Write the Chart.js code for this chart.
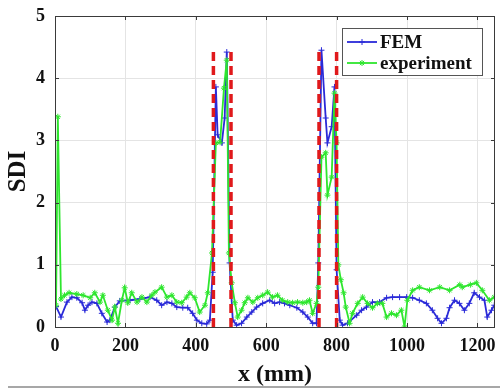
<!DOCTYPE html>
<html>
<head>
<meta charset="utf-8">
<script src="https://cdn.jsdelivr.net/npm/chart.js@4.4.1/dist/chart.umd.min.js"></script>
<style>
  html, body { margin: 0; padding: 0; background: #fff; }
  #wrap { width: 500px; height: 389px; position: relative; }
</style>
</head>
<body>
<div id="wrap"><canvas id="myChart_1" width="500" height="389"></canvas></div>
<script>
// FEM curve (blue, + markers)
const FEM_x = [3,17,34,48,62,77,85,94,105,119,133,148,156,170,184,213,241,270,289,303,318,332,346,363,377,391,403,417,431,440,
  448,457,462,474,482,488,496,505,516,530,545,559,573,590,610,624,638,652,667,687,704,718,732,743,
  748,757,769,774,786,794,800,809,817,831,857,871,885,902,922,942,959,979,999,1016,1035,1055,1072,1087,1098,1112,
  1121,1135,1149,1163,1177,1191,1206,1220,1228,1240,1248];
const FEM_y = [0.33,0.16,0.40,0.48,0.47,0.39,0.27,0.35,0.40,0.38,0.22,0.08,0.11,0.32,0.42,0.43,0.45,0.48,0.43,0.35,0.40,0.38,0.32,0.31,0.31,0.22,0.11,0.06,0.05,0.11,
  0.88,3.86,3.09,2.96,3.36,4.42,1.03,0.11,0.03,0.06,0.16,0.24,0.32,0.38,0.43,0.38,0.40,0.38,0.35,0.31,0.24,0.16,0.06,0.06,
  1.03,4.45,3.36,2.96,3.22,3.86,0.92,0.11,0.03,0.06,0.19,0.27,0.32,0.40,0.40,0.47,0.48,0.48,0.48,0.47,0.43,0.38,0.27,0.14,0.06,0.14,
  0.31,0.43,0.38,0.27,0.38,0.55,0.48,0.43,0.16,0.27,0.35];

// experiment curve (green, * markers)
const EXP_x = [3,8,17,27,40,62,80,100,113,128,136,150,162,170,179,190,198,207,218,233,247,261,275,284,303,318,332,346,360,374,383,397,411,426,434,
  446,457,469,480,488,494,502,511,519,530,539,548,562,576,590,604,618,632,646,661,675,689,704,715,723,732,743,
  748,757,769,774,786,794,800,805,812,820,826,837,845,860,874,888,902,916,930,942,956,970,984,993,1001,1016,1035,1064,1093,1121,1150,1157,1180,1197,1214,1234,1248];
const EXP_y = [0.35,3.38,0.45,0.51,0.55,0.53,0.51,0.47,0.55,0.40,0.51,0.27,0.11,0.32,0.06,0.43,0.63,0.39,0.55,0.40,0.48,0.40,0.51,0.56,0.64,0.48,0.51,0.40,0.39,0.48,0.55,0.47,0.24,0.35,0.55,
  1.19,2.96,2.97,3.84,4.29,1.19,0.71,0.39,0.16,0.27,0.39,0.47,0.40,0.47,0.51,0.56,0.48,0.51,0.43,0.40,0.39,0.40,0.39,0.40,0.43,0.22,0.38,
  0.64,2.73,2.80,2.12,2.41,3.76,2.96,1.00,0.76,0.55,0.32,0.06,0.22,0.38,0.48,0.38,0.31,0.38,0.38,0.16,0.22,0.19,0.27,0.00,0.43,0.59,0.64,0.59,0.64,0.59,0.68,0.64,0.68,0.71,0.59,0.43,0.48];

// defect edges (red dashed lines)
const EDGE_x = [450, 500, 750, 800];
const EDGE_top = 4.45;

const X_min = 0, X_max = 1250, X_step = 200;
const Y_min = 0, Y_max = 5, Y_step = 1;

const FONT = '"Liberation Serif", "Times New Roman", serif';
const BLUE = '#2a2ad8';
const GREEN = '#2ee62e';
const RED = '#e0191b';

const femPts = FEM_x.map((x, i) => ({x: x, y: FEM_y[i]}));
const expPts = EXP_x.map((x, i) => ({x: x, y: EXP_y[i]}));
const edgePts = [];
EDGE_x.forEach(x => { edgePts.push({x: x, y: 0}, {x: x, y: EDGE_top}, {x: x, y: null}); });

const legendItems = [
  {text: 'FEM', color: BLUE, style: 'cross'},
  {text: 'experiment', color: GREEN, style: 'star'}
];

function marker(ctx, style, x, y, r) {
  ctx.beginPath();
  ctx.moveTo(x - r, y); ctx.lineTo(x + r, y);
  ctx.moveTo(x, y - r); ctx.lineTo(x, y + r);
  if (style === 'star') {
    const d = r * 0.707;
    ctx.moveTo(x - d, y - d); ctx.lineTo(x + d, y + d);
    ctx.moveTo(x - d, y + d); ctx.lineTo(x + d, y - d);
  }
  ctx.stroke();
}

const framePlugin = {
  id: 'frame',
  afterDraw(chart) {
    const ctx = chart.ctx;
    const a = chart.chartArea;
    const xs = chart.scales.x, ys = chart.scales.y;
    ctx.save();
    ctx.strokeStyle = '#3a3a3a';
    ctx.lineWidth = 1;
    ctx.strokeRect(a.left + 0.5, a.top + 0.5, a.right - a.left - 1, a.bottom - a.top);
    // inward ticks
    ctx.beginPath();
    xs.ticks.forEach(t => {
      const px = Math.round(xs.getPixelForValue(t.value)) + 0.5;
      ctx.moveTo(px, a.bottom); ctx.lineTo(px, a.bottom - 4);
      ctx.moveTo(px, a.top); ctx.lineTo(px, a.top + 4);
    });
    ys.ticks.forEach(t => {
      const py = Math.round(ys.getPixelForValue(t.value)) + 0.5;
      ctx.moveTo(a.left, py); ctx.lineTo(a.left + 4, py);
      ctx.moveTo(a.right, py); ctx.lineTo(a.right - 4, py);
    });
    ctx.stroke();

    // legend box
    const bx = 342, by = 28, bw = 140, bh = 47;
    ctx.fillStyle = '#fff';
    ctx.fillRect(bx, by, bw, bh);
    ctx.strokeStyle = '#555';
    ctx.strokeRect(bx + 0.5, by + 0.5, bw, bh);
    ctx.font = 'bold 19px ' + FONT;
    ctx.textBaseline = 'middle';
    legendItems.forEach((it, i) => {
      const y = by + 14 + i * 21;
      ctx.strokeStyle = it.color;
      ctx.lineWidth = 1.8;
      ctx.beginPath();
      ctx.moveTo(bx + 5, y); ctx.lineTo(bx + 35, y);
      ctx.stroke();
      ctx.lineWidth = 1;
      marker(ctx, it.style, bx + 20, y, 3);
      ctx.fillStyle = '#111';
      ctx.fillText(it.text, bx + 38, y + 1);
    });

    // photo edge line at the bottom
    ctx.strokeStyle = '#8a8a8a';
    ctx.lineWidth = 1.5;
    ctx.beginPath();
    ctx.moveTo(8, 387); ctx.lineTo(500, 387);
    ctx.stroke();
    ctx.restore();
  }
};

const ctx_1 = document.getElementById('myChart_1');

window.myChart_1 = new Chart(ctx_1, {
  type: 'line',
  data: {
    datasets: [{
      label: 'edges',
      data: edgePts,
      borderColor: RED,
      borderWidth: 3.5,
      borderDash: [9, 5],
      pointRadius: 0,
      spanGaps: false,
      order: 0
    }, {
      label: 'experiment',
      data: expPts,
      borderColor: GREEN,
      backgroundColor: GREEN,
      borderWidth: 1.8,
      pointStyle: 'star',
      pointRadius: 3,
      pointBorderWidth: 1,
      pointBorderColor: GREEN,
      tension: 0,
      order: 1
    }, {
      label: 'FEM',
      data: femPts,
      borderColor: BLUE,
      backgroundColor: BLUE,
      borderWidth: 1.8,
      pointStyle: 'cross',
      pointRadius: 3,
      pointBorderWidth: 1,
      pointBorderColor: BLUE,
      tension: 0,
      order: 2
    }]
  },
  options: {
    responsive: false,
    animation: false,
    layout: { padding: { top: 16, right: 5, left: 0, bottom: 0 } },
    plugins: {
      legend: { display: false },
      tooltip: { enabled: false }
    },
    scales: {
      x: {
        type: 'linear',
        min: X_min,
        max: X_max,
        border: { display: false },
        grid: { color: '#e4e4e4', drawTicks: false },
        ticks: {
          stepSize: X_step,
          includeBounds: false,
          maxRotation: 0,
          padding: 9,
          color: '#111',
          font: { family: FONT, size: 18, weight: 'bold' },
          callback: v => String(v)
        },
        title: {
          display: true,
          text: 'x (mm)',
          color: '#111',
          padding: 0,
          font: { family: FONT, size: 24, weight: 'bold' }
        },
        afterFit(scale) {
          scale.height = 62;
          scale.paddingLeft = 0;
          scale.paddingRight = 0;
        }
      },
      y: {
        min: Y_min,
        max: Y_max,
        border: { display: false },
        grid: { color: '#e4e4e4', drawTicks: false },
        ticks: {
          stepSize: Y_step,
          padding: 10,
          color: '#111',
          font: { family: FONT, size: 18, weight: 'bold' },
          callback: v => String(v)
        },
        title: {
          display: true,
          text: 'SDI',
          color: '#111',
          padding: { top: 4, bottom: 0 },
          font: { family: FONT, size: 25, weight: 'bold' }
        },
        afterFit(scale) {
          scale.width = 55;
          scale.paddingTop = 0;
          scale.paddingBottom = 0;
        }
      }
    }
  },
  plugins: [framePlugin]
});
</script>
</body>
</html>
